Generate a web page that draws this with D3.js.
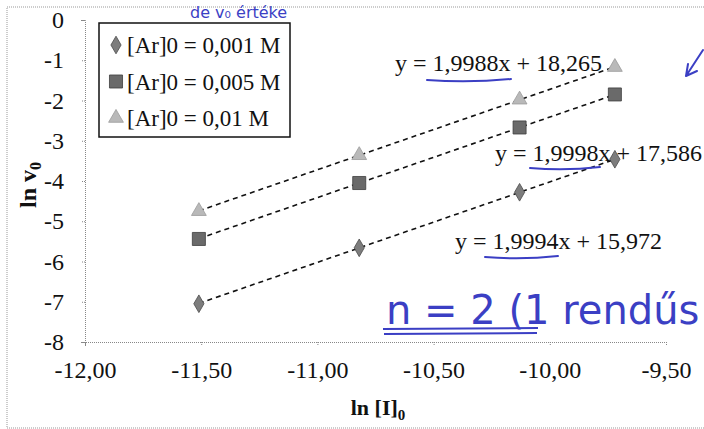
<!DOCTYPE html>
<html>
<head>
<meta charset="utf-8">
<script src="https://cdn.jsdelivr.net/npm/d3@7/dist/d3.min.js"></script>
<style>
  html, body { margin: 0; padding: 0; background: #fff; }
  svg { display: block; }
  text { font-family: "Liberation Serif", "Times New Roman", serif; fill: #111; }
  .hand { font-family: "DejaVu Sans", sans-serif; fill: #3b3fc4; }
</style>
</head>
<body>
<svg id="chart" width="704" height="429"></svg>
<script>
// ln [I]0 for the four inhibitor concentrations
const lnI = [-11.51, -10.82, -10.13, -9.72];

// ln v0 for each starting substrate concentration
const lnV_001 = [-7.05, -5.66, -4.28, -3.46];
const lnV_005 = [-5.44, -4.05, -2.67, -1.85];
const lnV_01  = [-4.75, -3.36, -1.98, -1.17];

const seriesNames = ["[Ar]0 = 0,001 M", "[Ar]0 = 0,005 M", "[Ar]0 = 0,01 M"];

// linear fit y = a·x + b of each series
const slopes     = [1.9994, 1.9998, 1.9988];
const intercepts = [15.972, 17.586, 18.265];

const xTicks = [-12, -11.5, -11, -10.5, -10, -9.5];
const yTicks = [0, -1, -2, -3, -4, -5, -6, -7, -8];

const svg = d3.select("#chart");

const x = d3.scaleLinear().domain([-12, -9.5]).range([85, 666]);
const y = d3.scaleLinear().domain([-8, 0]).range([342, 20]);

const comma = (v, d) => v.toFixed(d).replace(".", ",");

// outer chart frame
svg.append("rect")
  .attr("x", 7).attr("y", 7).attr("width", 720).attr("height", 421)
  .attr("fill", "none").attr("stroke", "#999").attr("stroke-dasharray", "1,1");

// axes
const xAxis = d3.axisBottom(x).tickValues(xTicks)
  .tickFormat(d => comma(d, 2)).tickSize(4).tickPadding(15);
const yAxis = d3.axisLeft(y).tickValues(yTicks)
  .tickFormat(d => String(d)).tickSize(4).tickPadding(17);

function styleAxis(g) {
  g.selectAll(".domain, .tick line")
    .attr("stroke", "#888").attr("stroke-dasharray", "1,1");
  g.selectAll("text")
    .attr("font-family", "Liberation Serif").attr("font-size", 24).attr("fill", "#111");
}
svg.append("g").attr("transform", "translate(0,342)").call(xAxis).call(styleAxis);
svg.append("g").attr("transform", "translate(85,0)").call(yAxis).call(styleAxis);

// axis titles
const xt = svg.append("text").attr("x", 378).attr("y", 415)
  .attr("text-anchor", "middle").attr("font-weight", "bold").attr("font-size", 22);
xt.append("tspan").text("ln [I]");
xt.append("tspan").attr("font-size", 15).attr("dy", 5).text("0");

const yt = svg.append("text").attr("transform", "translate(36,185) rotate(-90)")
  .attr("text-anchor", "middle").attr("font-weight", "bold").attr("font-size", 24);
yt.append("tspan").text("ln v");
yt.append("tspan").attr("font-size", 16).attr("dy", 5).text("0");

// marker shapes
const markers = [
  { sym: d3.symbolDiamond, size: 90, fill: "#7d7d7d", stroke: "#4a4a4a" },
  { sym: d3.symbolSquare,  size: 170, fill: "#6a6a6a", stroke: "#3e3e3e" },
  { sym: d3.symbolTriangle, size: 95, fill: "#b9b9b9", stroke: "#9a9a9a" }
];
const data = [lnV_001, lnV_005, lnV_01];

// trend lines
data.forEach((vals, i) => {
  const x0 = lnI[0], x1 = lnI[lnI.length - 1];
  svg.append("line")
    .attr("x1", x(x0)).attr("y1", y(slopes[i] * x0 + intercepts[i]))
    .attr("x2", x(x1)).attr("y2", y(slopes[i] * x1 + intercepts[i]))
    .attr("stroke", "#111").attr("stroke-width", 1.6).attr("stroke-dasharray", "5,4");
});

// points
data.forEach((vals, i) => {
  const m = markers[i];
  svg.append("g").selectAll("path").data(vals).join("path")
    .attr("transform", (d, j) => `translate(${x(lnI[j])},${y(d)})`)
    .attr("d", d3.symbol(m.sym, m.size))
    .attr("fill", m.fill).attr("stroke", m.stroke).attr("stroke-width", 0.8);
});

// fit equations
const eqPos = [[455, 249], [495, 161], [395, 71]];
slopes.forEach((s, i) => {
  svg.append("text").attr("x", eqPos[i][0]).attr("y", eqPos[i][1])
    .attr("font-size", 24)
    .text(`y = ${comma(s, 4)}x + ${comma(intercepts[i], 3)}`);
});

// legend
svg.append("rect").attr("x", 99).attr("y", 23).attr("width", 191).attr("height", 114)
  .attr("fill", "#fff").attr("stroke", "#111").attr("stroke-width", 1.5);
seriesNames.forEach((name, i) => {
  const cy = 45 + i * 36.5;
  const m = markers[i];
  svg.append("path").attr("transform", `translate(116,${cy})`)
    .attr("d", d3.symbol(m.sym, m.size))
    .attr("fill", m.fill).attr("stroke", m.stroke).attr("stroke-width", 0.8);
  svg.append("text").attr("x", 127).attr("y", cy + 8).attr("font-size", 23).text(name);
});

// pen annotations
const ink = "#3b3fc4";
svg.append("text").attr("class", "hand").attr("x", 190).attr("y", 18)
  .attr("font-size", 16).attr("fill", ink).text("de v₀ értéke");
[[427, 511, 80], [530, 600, 168], [485, 558, 257]].forEach(([a, b, yy]) => {
  svg.append("path")
    .attr("d", `M${a},${yy} Q${(a + b) / 2},${yy + 3} ${b},${yy - 1}`)
    .attr("fill", "none").attr("stroke", ink).attr("stroke-width", 2).attr("stroke-linecap", "round");
});
svg.append("path").attr("d", "M703,50 L686,76 M686,76 L688,64 M686,76 L697,71")
  .attr("fill", "none").attr("stroke", ink).attr("stroke-width", 2).attr("stroke-linecap", "round");
svg.append("text").attr("class", "hand").attr("x", 386).attr("y", 324)
  .attr("font-size", 40).attr("fill", ink).text("n = 2 (1 rendűs");
svg.append("path").attr("d", "M383,329 L538,328 M384,334 L537,333")
  .attr("fill", "none").attr("stroke", ink).attr("stroke-width", 2);
</script>
</body>
</html>
